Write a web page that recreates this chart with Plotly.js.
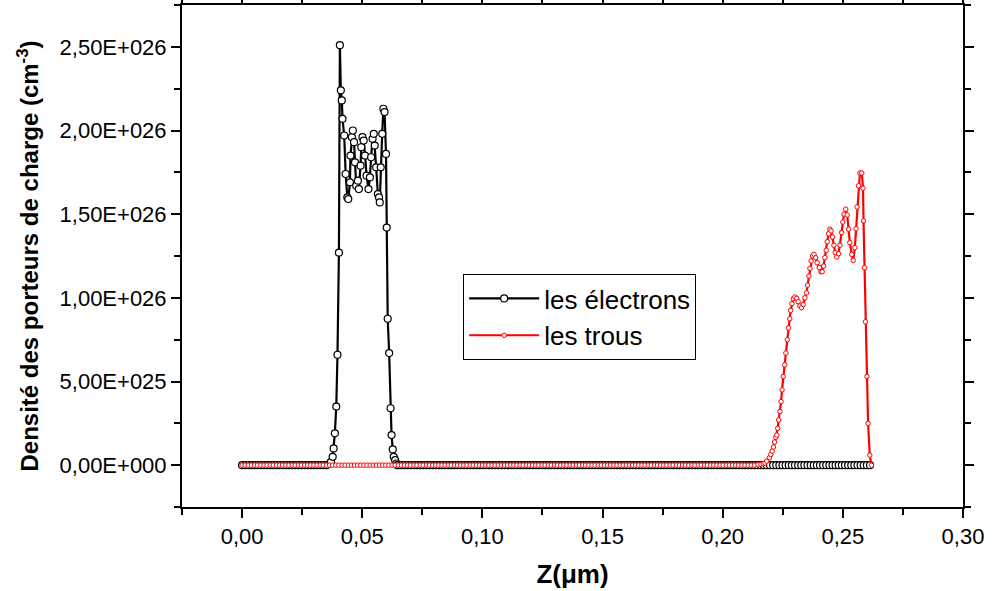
<!DOCTYPE html>
<html>
<head>
<meta charset="utf-8">
<script src="https://cdn.plot.ly/plotly-3.0.1.min.js"></script>
<style>
  html, body { margin: 0; padding: 0; background: #fff; }
  #chart { width: 993px; height: 591px; }
</style>
</head>
<body>
<div id="chart"></div>
<script>
// ---- data (Z in µm, densities in 1e26 cm^-3) ----
const sampleStep = 0.0013;            // spacing of the flat (zero) samples
const elecZeroRanges = [[0.0000, 0.0360], [0.0650, 0.2619]];
const holeZeroRanges = [[0.0000, 0.2140]];

const elecPeakZ = [0.0365, 0.0370, 0.0377, 0.0381, 0.0386, 0.0392, 0.0397, 0.0403, 0.0407, 0.0411,
  0.0415, 0.0418, 0.0425, 0.0431, 0.0438, 0.0442, 0.0449, 0.0451, 0.0457, 0.0461,
  0.0466, 0.0470, 0.0475, 0.0482, 0.0486, 0.0493, 0.0496, 0.0501, 0.0506, 0.0512,
  0.0518, 0.0526, 0.0532, 0.0537, 0.0543, 0.0548, 0.0552, 0.0558, 0.0565, 0.0570,
  0.0573, 0.0577, 0.0583, 0.0588, 0.0593, 0.0599, 0.0602, 0.0606, 0.0612, 0.0618,
  0.0622, 0.0627, 0.0631, 0.0637, 0.0642, 0.0646];
const elecPeakN = [0.01, 0.02, 0.05, 0.10, 0.19, 0.35, 0.66, 1.27, 2.51, 2.24,
  2.18, 2.07, 1.97, 1.74, 1.60, 1.59, 1.69, 1.85, 1.96, 2.00,
  1.93, 1.81, 1.67, 1.70, 1.65, 1.79, 1.90, 1.96, 1.94, 1.85,
  1.73, 1.65, 1.72, 1.84, 1.95, 1.98, 1.91, 1.78, 1.62, 1.60,
  1.57, 1.78, 1.98, 2.13, 2.11, 1.86, 1.42, 0.875, 0.67, 0.34,
  0.18, 0.094, 0.05, 0.03, 0.01, 0.0];

const holePeakZ = [0.2147, 0.2159, 0.2169, 0.2176, 0.2183, 0.2194, 0.2200, 0.2206, 0.2211, 0.2216,
  0.2221, 0.2225, 0.2229, 0.2233, 0.2238, 0.2243, 0.2247, 0.2252, 0.2258, 0.2263,
  0.2269, 0.2273, 0.2279, 0.2283, 0.2288, 0.2294, 0.2301, 0.2308, 0.2314, 0.2321,
  0.2328, 0.2335, 0.2342, 0.2349, 0.2353, 0.2359, 0.2363, 0.2368, 0.2374, 0.2380,
  0.2387, 0.2393, 0.2402, 0.2409, 0.2414, 0.2420, 0.2425, 0.2431, 0.2435, 0.2441,
  0.2446, 0.2451, 0.2457, 0.2463, 0.2468, 0.2475, 0.2482, 0.2488, 0.2495, 0.2500,
  0.2505, 0.2512, 0.2518, 0.2524, 0.2529, 0.2537, 0.2543, 0.2550, 0.2555, 0.2559,
  0.2565, 0.2571, 0.2579, 0.2584, 0.2586, 0.2590, 0.2594, 0.2600, 0.2605, 0.2612,
  0.2619];
const holePeakN = [0.002, 0.005, 0.009, 0.013, 0.024, 0.044, 0.064, 0.084, 0.108, 0.138,
  0.167, 0.18, 0.22, 0.27, 0.32, 0.38, 0.45, 0.53, 0.60, 0.67,
  0.75, 0.82, 0.875, 0.925, 0.965, 0.995, 1.005, 0.997, 0.977, 0.951,
  0.941, 0.96, 1.0, 1.03, 1.075, 1.13, 1.176, 1.22, 1.25, 1.26,
  1.24, 1.21, 1.18, 1.156, 1.156, 1.19, 1.24, 1.284, 1.335, 1.383,
  1.41, 1.40, 1.364, 1.314, 1.27, 1.244, 1.264, 1.314, 1.39, 1.453,
  1.50, 1.53, 1.495, 1.41, 1.33, 1.26, 1.224, 1.30, 1.413, 1.543,
  1.67, 1.746, 1.746, 1.655, 1.46, 1.18, 0.857, 0.53, 0.25, 0.06,
  0.0];

const xTickVals = [0.00, 0.05, 0.10, 0.15, 0.20, 0.25, 0.30];
const xTickText = ['0,00', '0,05', '0,10', '0,15', '0,20', '0,25', '0,30'];
const yTickVals = [0, 0.5e26, 1.0e26, 1.5e26, 2.0e26, 2.5e26];
const yTickText = ['0,00E+000', '5,00E+025', '1,00E+026', '1,50E+026', '2,00E+026', '2,50E+026'];

const seriesNames = ['les électrons', 'les trous'];
const unit = 1e26;

// ---- build series ----
function zeroSamples(range) {
  const zs = [];
  for (let z = range[0]; z <= range[1] + 1e-9; z += sampleStep) zs.push(+z.toFixed(5));
  return zs;
}
function assemble(zeroRanges, peakZ, peakN) {
  let pts = [];
  zeroRanges.forEach(r => zeroSamples(r).forEach(z => pts.push([z, 0])));
  peakZ.forEach((z, i) => pts.push([z, peakN[i] * unit]));
  pts.sort((a, b) => a[0] - b[0]);
  return { x: pts.map(p => p[0]), y: pts.map(p => p[1]) };
}
const elec = assemble(elecZeroRanges, elecPeakZ, elecPeakN);
const hole = assemble(holeZeroRanges, holePeakZ, holePeakN);

const traces = [
  {
    x: elec.x, y: elec.y, name: seriesNames[0], type: 'scatter', mode: 'lines+markers',
    line: { color: '#000000', width: 2.2 },
    marker: { symbol: 'circle', size: 7, color: '#ffffff', line: { color: '#000000', width: 1.2 } }
  },
  {
    x: hole.x, y: hole.y, name: seriesNames[1], type: 'scatter', mode: 'lines+markers',
    line: { color: '#ff0000', width: 2.2 },
    marker: { symbol: 'circle', size: 4.5, color: '#ffffff', line: { color: '#ff0000', width: 1 } }
  }
];

const fontFam = 'Liberation Sans, Arial, sans-serif';
const layout = {
  width: 993, height: 591,
  margin: { l: 182, r: 30, t: 5, b: 84 },
  paper_bgcolor: '#ffffff', plot_bgcolor: '#ffffff',
  font: { family: fontFam, color: '#000000', size: 20 },
  showlegend: true,
  legend: {
    x: 0.36, y: 0.464, xanchor: 'left', yanchor: 'top',
    bgcolor: '#ffffff', bordercolor: '#000000', borderwidth: 1,
    font: { family: fontFam, size: 26, color: '#000000' },
    itemwidth: 70,
    tracegroupgap: 0
  },
  xaxis: {
    range: [-0.025, 0.30], tickmode: 'array', tickvals: xTickVals, ticktext: xTickText,
    ticks: 'outside', ticklen: 9, tickwidth: 2, tickcolor: '#000',
    showline: true, linecolor: '#000', linewidth: 2, mirror: 'ticks',
    showgrid: false, zeroline: false,
    tickfont: { family: fontFam, size: 22, color: '#000' },
    minor: { tickmode: 'linear', tick0: 0, dtick: 0.025, ticks: 'outside', ticklen: 6, tickwidth: 2, tickcolor: '#000', showgrid: false },
    title: { text: '<b>Z(μm)</b>', font: { family: fontFam, size: 26, color: '#000' }, standoff: 16 }
  },
  yaxis: {
    range: [-0.25e26, 2.75e26], tickmode: 'array', tickvals: yTickVals, ticktext: yTickText,
    ticks: 'outside', ticklen: 9, tickwidth: 2, tickcolor: '#000',
    showline: true, linecolor: '#000', linewidth: 2, mirror: 'ticks',
    showgrid: false, zeroline: false,
    tickfont: { family: fontFam, size: 22, color: '#000' },
    minor: { tickmode: 'linear', tick0: 0, dtick: 0.25e26, ticks: 'outside', ticklen: 6, tickwidth: 2, tickcolor: '#000', showgrid: false },
    title: { text: '<b>Densité des porteurs de charge (cm<sup>-3</sup>)</b>', font: { family: fontFam, size: 24, color: '#000' }, standoff: 14 }
  }
};

Plotly.newPlot('chart', traces, layout, { displayModeBar: false, staticPlot: true });
</script>
</body>
</html>
